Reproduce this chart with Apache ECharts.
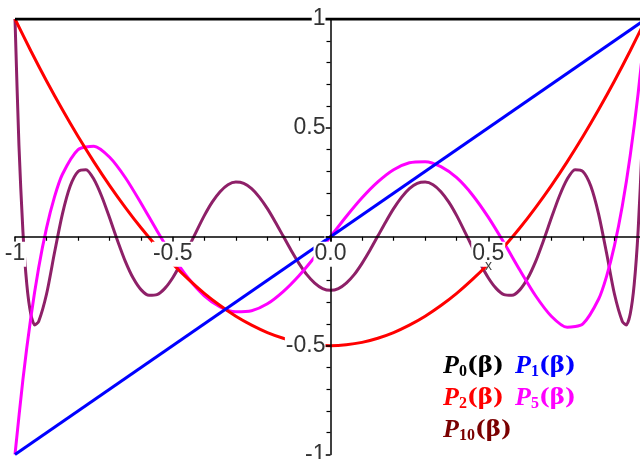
<!DOCTYPE html>
<html><head><meta charset="utf-8">
<script src="https://cdn.jsdelivr.net/npm/echarts@6/dist/echarts.min.js"></script>
<style>html,body{margin:0;padding:0;background:#fff}#c{width:640px;height:459px}</style>
</head><body><div id="c"></div>
<script>
// ---- tick labels ----
const xTickLabels = {'-1':'-1','-0.5':'-0.5','0':'0.0','0.5':'0.5','1':''};
const yTickLabels = {'1':'1','0.5':'0.5','0':'','-0.5':'-0.5','-1':'-1'};

// ---- P0 and P1 ----
const p0X = [-1, 1];
const p0Y = [1, 1];
const p1X = [-1, 1];
const p1Y = [-1, 1];

// ---- P2 ----
const p2X = [-1,-0.95,-0.9,-0.85,-0.8,-0.75,-0.7,-0.65,-0.6,-0.55,-0.5,-0.45,-0.4,-0.35,-0.3,-0.25,-0.2,-0.15,-0.1,-0.05,0,
             0.05,0.1,0.15,0.2,0.25,0.3,0.35,0.4,0.45,0.5,0.55,0.6,0.65,0.7,0.75,0.8,0.85,0.9,0.95,1];
const p2Y = [1,0.854,0.715,0.584,0.46,0.344,0.235,0.134,0.04,-0.046,-0.125,-0.196,-0.26,-0.316,-0.365,-0.406,-0.44,-0.466,-0.485,-0.496,-0.5,
             -0.496,-0.485,-0.466,-0.44,-0.406,-0.365,-0.316,-0.26,-0.196,-0.125,-0.046,0.04,0.134,0.235,0.344,0.46,0.584,0.715,0.854,1];

// ---- P5 ----
const p5X = [-1,-0.975,-0.95,-0.925,-0.9,-0.875,-0.85,-0.8,-0.75,-0.7,-0.65,-0.6,-0.55,-0.5,-0.45,-0.4,-0.35,-0.3,-0.25,-0.2,-0.15,-0.1,-0.05,0,
             0.05,0.1,0.15,0.2,0.25,0.3,0.35,0.4,0.45,0.5,0.55,0.6,0.65,0.7,0.75,0.8,0.85,0.875,0.9,0.925,0.95,0.975,1];
const p5Y = [-1,-0.657,-0.373,-0.142,0.041,0.182,0.286,0.4,0.416,0.365,0.271,0.153,0.028,-0.09,-0.192,-0.271,-0.322,-0.345,-0.34,-0.308,-0.252,-0.179,-0.093,0,
             0.093,0.179,0.252,0.308,0.34,0.345,0.322,0.271,0.192,0.09,-0.028,-0.153,-0.271,-0.365,-0.416,-0.4,-0.286,-0.182,-0.041,0.142,0.373,0.657,1];

// ---- P10 ----
const p10X = [-1,-0.9875,-0.975,-0.9625,-0.95,-0.9375,-0.925,-0.9,-0.875,-0.85,-0.825,-0.8,-0.775,-0.75,-0.725,-0.7,-0.675,-0.65,-0.625,-0.6,
              -0.575,-0.55,-0.525,-0.5,-0.475,-0.45,-0.425,-0.4,-0.375,-0.35,-0.325,-0.3,-0.275,-0.25,-0.225,-0.2,-0.175,-0.15,-0.125,-0.1,
              -0.075,-0.05,-0.025,0,
              0.025,0.05,0.075,0.1,0.125,0.15,0.175,0.2,0.225,0.25,0.275,0.3,0.325,0.35,0.375,0.4,0.425,0.45,0.475,0.5,
              0.525,0.55,0.575,0.6,0.625,0.65,0.675,0.7,0.725,0.75,0.775,0.8,0.825,0.85,0.875,0.9,0.925,0.9375,0.95,0.9625,0.975,0.9875,1];
const p10Y = [1,0.42,0.027,-0.22,-0.355,-0.405,-0.389,-0.263,-0.075,0.103,0.233,0.3,0.308,0.264,0.185,0.086,-0.018,-0.114,-0.191,-0.244,
              -0.269,-0.266,-0.237,-0.188,-0.124,-0.05,0.025,0.097,0.159,0.207,0.239,0.251,0.245,0.221,0.181,0.129,0.068,0.003,-0.062,-0.122,
              -0.174,-0.213,-0.238,-0.246,
              -0.238,-0.213,-0.174,-0.122,-0.062,0.003,0.068,0.129,0.181,0.221,0.245,0.251,0.239,0.207,0.159,0.097,0.025,-0.05,-0.124,-0.188,
              -0.237,-0.266,-0.269,-0.244,-0.191,-0.114,-0.018,0.086,0.185,0.264,0.308,0.3,0.233,0.103,-0.075,-0.263,-0.389,-0.405,-0.355,-0.22,0.027,0.42,1];

const legendItems = [
  {sub:'0', color:'#000000', left:443, top:352},
  {sub:'1', color:'#0000ff', left:515, top:352},
  {sub:'2', color:'#ff0000', left:443, top:384},
  {sub:'5', color:'#ff00ff', left:515, top:384},
  {sub:'10', color:'#7a0000', left:443, top:416}
];

const pairs = (xs, ys) => xs.map((x, i) => [x, ys[i]]);

const chart = echarts.init(document.getElementById('c'), null, {renderer:'canvas'});

const labelStyle = {
  fontFamily: 'Liberation Sans', fontSize: 23, color: '#333', backgroundColor: '#fff'
};

function mkSeries(name, xs, ys, color) {
  return {
    name, type: 'line', data: pairs(xs, ys), showSymbol: false, symbol: 'none',
    lineStyle: {color, width: 3}, itemStyle: {color}, smooth: 0.25, z: 2,
    emphasis: {disabled: true}, animation: false
  };
}

const GL = 15, GR = -6, GT = 19, GB = 4.5;
const W = 640, H = 459;
const gridW = W - GL - GR, gridH = H - GT - GB;

const tickCommon = {
  axisTick: {show: true, length: 5, lineStyle: {color: '#000', width: 1.5}},
  minorTick: {show: true, splitNumber: 5, length: 4, lineStyle: {color: '#000', width: 1.2}},
  splitLine: {show: false},
  minorSplitLine: {show: false}
};

chart.setOption({
  animation: false,
  backgroundColor: '#fff',
  grid: {left: GL, right: GR, top: GT, bottom: GB, containLabel: false, outerBoundsMode: 'none'},
  xAxis: Object.assign({
    type: 'value', min: -1, max: 1, interval: 0.5, z: 10,
    position: 'bottom', offset: -gridH / 2,
    axisLine: {onZero: false, lineStyle: {color: '#000', width: 1.5}},
    axisLabel: Object.assign({margin: 5, padding: [0, 1, 2, 1], hideOverlap: false,
      formatter: v => xTickLabels[String(v)]}, labelStyle)
  }, tickCommon),
  yAxis: Object.assign({
    type: 'value', min: -1, max: 1, interval: 0.5, z: 10,
    position: 'left', offset: -gridW / 2,
    axisLine: {onZero: false, lineStyle: {color: '#000', width: 1.5}},
    axisLabel: Object.assign({margin: 5, padding: [2, 0, 2, 1], hideOverlap: false,
      formatter: v => yTickLabels[String(v)]}, labelStyle)
  }, tickCommon),
  series: [
    mkSeries('P10', p10X, p10Y, '#8e2068'),
    mkSeries('P5', p5X, p5Y, '#ff00ff'),
    mkSeries('P2', p2X, p2Y, '#ff0000'),
    mkSeries('P1', p1X, p1Y, '#0000ff'),
    mkSeries('P0', p0X, p0Y, '#000000')
  ],
  graphic: [
    {type: 'text', left: 485, top: 259, z: 20,
     style: {text: 'x', font: '14px "Liberation Sans"', fill: '#444'}}
  ].concat(legendItems.map(it => ({
    type: 'text', left: it.left, top: it.top, z: 20,
    style: {
      text: '{p|P}{s|' + it.sub + '}{b|(β)}',
      rich: {
        p: {fontFamily: 'Liberation Serif', fontStyle: 'italic', fontWeight: 'bold', fontSize: 26, fill: it.color, lineHeight: 28},
        s: {fontFamily: 'Liberation Serif', fontWeight: 'bold', fontSize: 16, fill: it.color, lineHeight: 28, padding: [12, 0, 0, 0]},
        b: {fontFamily: 'DejaVu Serif', fontWeight: 'bold', fontSize: 23, fill: it.color, lineHeight: 28}
      }
    }
  })))
});
</script></body></html>
